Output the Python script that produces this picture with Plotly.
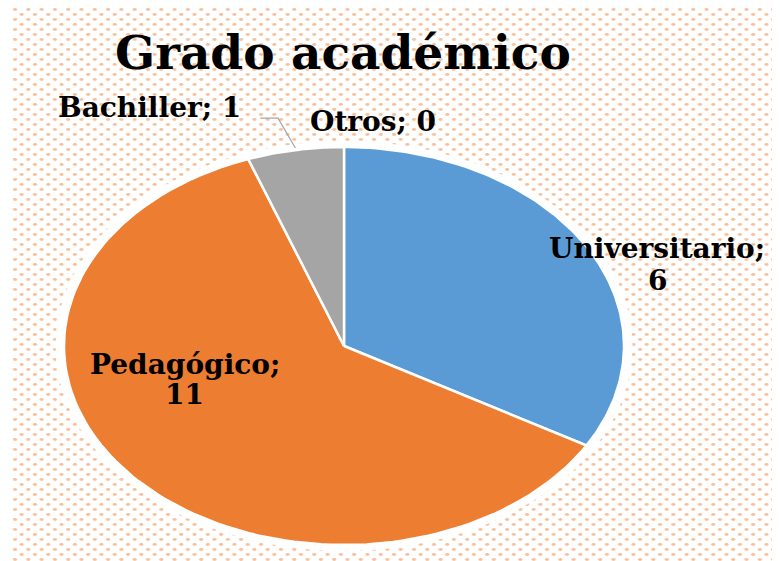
import base64
import numpy as np
import plotly.graph_objects as go

# datos del gráfico
categorias = ["Universitario", "Pedagógico", "Bachiller", "Otros"]
valores = [6, 11, 1, 0]
colores = ["#5B9BD5", "#ED7D31", "#A5A5A5", "#FFC000"]

W, H = 780, 561
OFF = 8  # margen del body de la página
# centro y radios del pastel (en píxeles) -> se traducen a rangos de ejes
cx, cy, rx, ry = 344 - OFF, 346 - OFF, 280, 199
xr = [-cx / rx, (W - cx) / rx]
yr = [(cy - H) / ry, cy / ry]

fig = go.Figure()

# halo blanco alrededor del pastel
fig.add_shape(type="circle", xref="x", yref="y", x0=-1.03, x1=1.03, y0=-1.03, y1=1.03,
              fillcolor="white", line=dict(color="white", width=0), layer="below")

# sectores (sentido horario desde arriba)
total = sum(valores)
inicio = 0.0
for cat, v, col in zip(categorias, valores, colores):
    fin = inicio + v / total * 2 * np.pi
    if v > 0:
        t = np.linspace(inicio, fin, 120)
        xs = np.concatenate([[0], np.sin(t), [0]])
        ys = np.concatenate([[0], np.cos(t), [0]])
        fig.add_trace(go.Scatter(x=xs, y=ys, fill="toself", fillcolor=col, mode="lines",
                                 line=dict(color="white", width=2.5), name=cat,
                                 hoverinfo="text", text=f"{cat}: {v}"))
    if cat == "Bachiller":
        mid = (inicio + fin) / 2
        ex, ey = np.sin(mid), np.cos(mid)
        fig.add_trace(go.Scatter(x=[ex - 0.125, ex - 0.062, ex], y=[ey + 0.16, ey + 0.16, ey + 0.01],
                                 mode="lines", line=dict(color="#A6A6A6", width=1.2),
                                 hoverinfo="skip"))
    inicio = fin

fuente = dict(family="DejaVu Serif", color="#000000", size=28, weight="bold")
etiquetas = [
    ("Universitario;", 1.118, 0.49),
    ("6", 1.118, 0.33),
    ("Pedagógico;", -0.568, -0.095),
    ("11", -0.568, -0.246),
    ("Bachiller; 1", -0.693, 1.20),
    ("Otros; 0", 0.104, 1.13),
]
for txt, x, y in etiquetas:
    fig.add_annotation(text=txt, x=x, y=y, xref="x", yref="y", showarrow=False,
                       font=fuente, align="center", xanchor="center", yanchor="middle")

fig.add_annotation(text="Grado académico", x=(343 - OFF) / W, y=1 - (53 - OFF) / H,
                   xref="paper", yref="paper", showarrow=False,
                   xanchor="center", yanchor="middle",
                   font=dict(family="DejaVu Serif", size=47, color="#000000", weight="bold"))

# fondo punteado
x0p, y0p = 12 - OFF, 0
pw, ph = W - x0p, H
svg = (f'<svg xmlns="http://www.w3.org/2000/svg" width="{pw}" height="{ph}">'
       '<defs><pattern id="p" x="0" y="-1" width="13.3" height="10" patternUnits="userSpaceOnUse">'
       '<ellipse cx="3" cy="2.5" rx="2.1" ry="1.4" fill="#F4B183" fill-opacity="0.8"/>'
       '<ellipse cx="9.65" cy="7.5" rx="2.1" ry="1.4" fill="#F4B183" fill-opacity="0.8"/>'
       '</pattern></defs>'
       f'<rect width="{pw}" height="{ph}" fill="url(#p)"/></svg>')
src = "data:image/svg+xml;base64," + base64.b64encode(svg.encode()).decode()
fig.add_layout_image(source=src, xref="paper", yref="paper", x=x0p / W, y=1 - y0p / H,
                     sizex=pw / W, sizey=ph / H, sizing="stretch",
                     xanchor="left", yanchor="top", layer="below")

fig.update_layout(
    width=W, height=H,
    margin=dict(l=0, r=0, t=0, b=0),
    paper_bgcolor="white", plot_bgcolor="rgba(0,0,0,0)",
    showlegend=False,
    xaxis=dict(range=xr, visible=False, fixedrange=True),
    yaxis=dict(range=yr, visible=False, fixedrange=True),
)

fig.write_html("out.html")
